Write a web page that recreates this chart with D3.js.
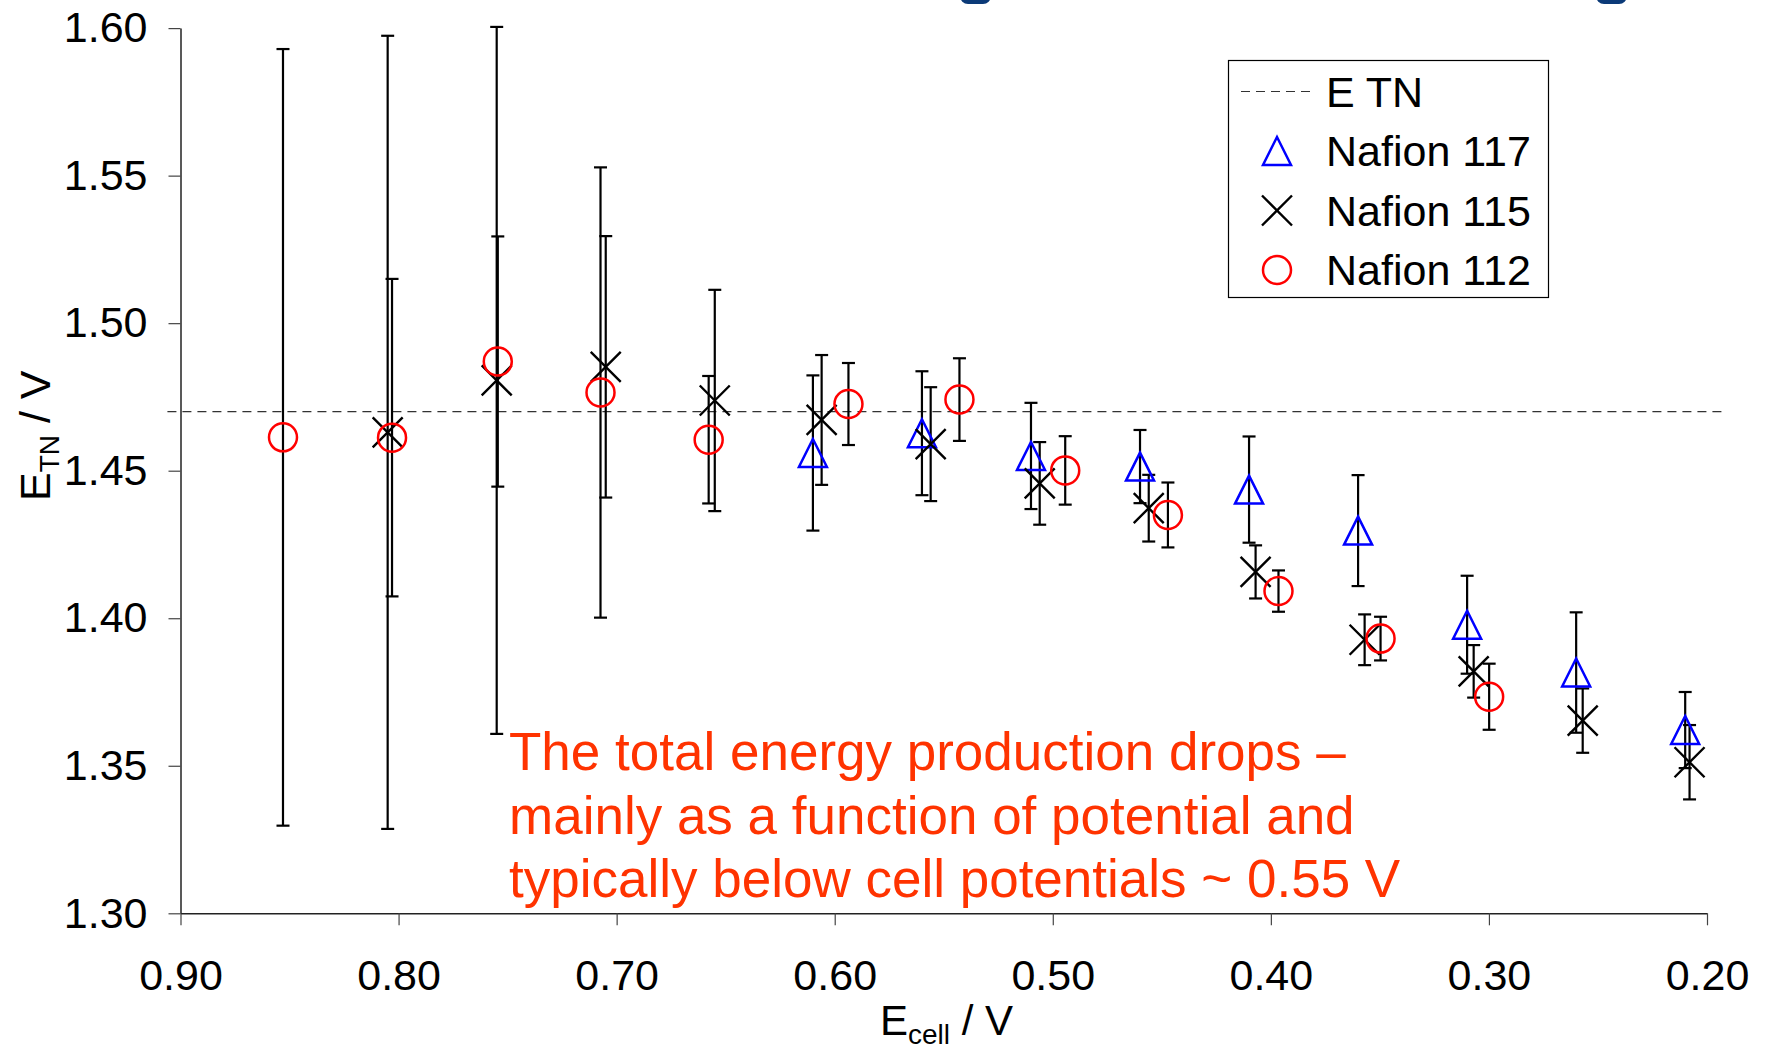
<!DOCTYPE html>
<html>
<head>
<meta charset="utf-8">
<script src="https://cdn.jsdelivr.net/npm/d3@7"></script>
<style>
  html, body { margin: 0; padding: 0; background: #fff; }
  svg { display: block; }
  text { font-family: "Liberation Sans", Arial, sans-serif; }
</style>
</head>
<body>
<svg id="chart" width="1765" height="1049"></svg>
<script>
// ---------- data ----------
const xTicks = [0.90, 0.80, 0.70, 0.60, 0.50, 0.40, 0.30, 0.20];
const yTicks = [1.30, 1.35, 1.40, 1.45, 1.50, 1.55, 1.60];

const etnX = [0.906, 0.191];
const etnY = [1.47, 1.47];

const n117X   = [0.610, 0.560, 0.510, 0.460, 0.410, 0.360, 0.310, 0.260, 0.210];
const n117Y   = [1.4560, 1.4627, 1.4550, 1.4514, 1.4436, 1.4297, 1.3978, 1.3816, 1.3621];
const n117Err = [0.0263, 0.0210, 0.0180, 0.0124, 0.0180, 0.0188, 0.0166, 0.0204, 0.0129];

const n115X   = [0.805, 0.755, 0.705, 0.655, 0.606, 0.556, 0.506, 0.456, 0.407, 0.357, 0.307, 0.257, 0.208];
const n115Y   = [1.4630, 1.4806, 1.4852, 1.4738, 1.4672, 1.4590, 1.4457, 1.4373, 1.4157, 1.3927, 1.3820, 1.3653, 1.3512];
const n115Err = [0.1344, 0.1198, 0.0443, 0.0375, 0.0220, 0.0193, 0.0140, 0.0113, 0.0090, 0.0086, 0.0089, 0.0109, 0.0126];

const n112X   = [0.853, 0.803, 0.7545, 0.7074, 0.6578, 0.5937, 0.5428, 0.4943, 0.4472, 0.3965, 0.3497, 0.2999];
const n112Y   = [1.4613, 1.4612, 1.4870, 1.4765, 1.4605, 1.4726, 1.4741, 1.4501, 1.4350, 1.4092, 1.3931, 1.3734];
const n112Err = [0.1316, 0.0538, 0.0424, 0.0763, 0.0216, 0.0139, 0.0140, 0.0116, 0.0110, 0.0070, 0.0074, 0.0112];

const legendLabels = ["E TN", "Nafion 117", "Nafion 115", "Nafion 112"];
const noteLines = [
  "The total energy production drops \u2013",
  "mainly as a function of potential and",
  "typically below cell potentials ~ 0.55 V"
];

// ---------- chart ----------
const svg = d3.select("#chart");
const x = d3.scaleLinear().domain([0.90, 0.20]).range([180.5, 1707]);
const y = d3.scaleLinear().domain([1.30, 1.60]).range([913.3, 28.1]);

// slide artefacts at the top edge
svg.append("rect").attr("x", 960).attr("y", -18).attr("width", 31).attr("height", 22).attr("rx", 8).attr("fill", "#0b3a78");
svg.append("rect").attr("x", 1596).attr("y", -18).attr("width", 31).attr("height", 22).attr("rx", 8).attr("fill", "#0b3a78");

// axes
const xAxis = d3.axisBottom(x).tickValues(xTicks).tickFormat(d3.format(".2f")).tickSize(12).tickPadding(34).tickSizeOuter(0);
const yAxis = d3.axisLeft(y).tickValues(yTicks).tickFormat(d3.format(".2f")).tickSize(12).tickPadding(21).tickSizeOuter(0);

const gx = svg.append("g").attr("transform", `translate(0,${y(1.30)})`).call(xAxis);
const gy = svg.append("g").attr("transform", `translate(${x(0.90)},0)`).call(yAxis);
[gx, gy].forEach(g => {
  g.select(".domain").attr("stroke", "#222").attr("stroke-width", 1.5);
  g.selectAll(".tick line").attr("stroke", "#444").attr("stroke-width", 1.2);
  g.selectAll(".tick text").attr("fill", "#000").style("font-size", "43px")
    .style("font-family", "'Liberation Sans', Arial, sans-serif");
});

// axis titles
const xt = svg.append("text").attr("x", 880).attr("y", 1035).style("font-size", "42px").attr("fill", "#000");
xt.append("tspan").text("E");
xt.append("tspan").attr("dy", 9).style("font-size", "28px").text("cell");
xt.append("tspan").attr("dy", -9).text(" / V");

const yt = svg.append("text").attr("transform", "translate(50,501) rotate(-90)").style("font-size", "43px").attr("fill", "#000");
yt.append("tspan").text("E");
yt.append("tspan").attr("dy", 9).style("font-size", "28px").text("TN");
yt.append("tspan").attr("dy", -9).text(" / V");

// E TN dashed line
svg.append("path")
  .datum(etnX.map((d, i) => [d, etnY[i]]))
  .attr("d", d3.line().x(d => x(d[0])).y(d => y(d[1])))
  .attr("fill", "none").attr("stroke", "#333").attr("stroke-width", 1.2).attr("stroke-dasharray", "9,6");

// error bars
function errorBars(xs, ys, es) {
  const g = svg.append("g").attr("stroke", "#000").attr("stroke-width", 2.2).attr("fill", "none");
  xs.forEach((xv, i) => {
    const cx = x(xv), y1 = y(ys[i] + es[i]), y2 = y(ys[i] - es[i]);
    g.append("line").attr("x1", cx).attr("x2", cx).attr("y1", y1).attr("y2", y2);
    g.append("line").attr("x1", cx - 6.5).attr("x2", cx + 6.5).attr("y1", y1).attr("y2", y1);
    g.append("line").attr("x1", cx - 6.5).attr("x2", cx + 6.5).attr("y1", y2).attr("y2", y2);
  });
}
errorBars(n117X, n117Y, n117Err);
errorBars(n115X, n115Y, n115Err);
errorBars(n112X, n112Y, n112Err);

// marker shapes
const triPath = (cx, cy) => `M${cx},${cy - 14}L${cx + 14},${cy + 14}L${cx - 14},${cy + 14}Z`;
const crossPath = (cx, cy) => `M${cx - 15},${cy - 15}L${cx + 15},${cy + 15}M${cx - 15},${cy + 15}L${cx + 15},${cy - 15}`;

svg.append("g").selectAll("path").data(n117X).join("path")
  .attr("d", (d, i) => triPath(x(d), y(n117Y[i])))
  .attr("fill", "none").attr("stroke", "#0000ff").attr("stroke-width", 2.5);

svg.append("g").selectAll("path").data(n115X).join("path")
  .attr("d", (d, i) => crossPath(x(d), y(n115Y[i])))
  .attr("fill", "none").attr("stroke", "#000").attr("stroke-width", 2.4);

svg.append("g").selectAll("circle").data(n112X).join("circle")
  .attr("cx", d => x(d)).attr("cy", (d, i) => y(n112Y[i])).attr("r", 14)
  .attr("fill", "none").attr("stroke", "#ff0000").attr("stroke-width", 2.5);

// legend
const lg = svg.append("g");
lg.append("rect").attr("x", 1228.5).attr("y", 60.5).attr("width", 320).attr("height", 237)
  .attr("fill", "#fff").attr("stroke", "#000").attr("stroke-width", 1.2);
const rowY = [91.5, 151, 210.5, 270];
const symX = 1277;
lg.append("line").attr("x1", 1241).attr("x2", 1311).attr("y1", rowY[0]).attr("y2", rowY[0])
  .attr("stroke", "#333").attr("stroke-width", 1.2).attr("stroke-dasharray", "9,6");
lg.append("path").attr("d", triPath(symX, rowY[1])).attr("fill", "none").attr("stroke", "#0000ff").attr("stroke-width", 2.5);
lg.append("path").attr("d", crossPath(symX, rowY[2])).attr("fill", "none").attr("stroke", "#000").attr("stroke-width", 2.4);
lg.append("circle").attr("cx", symX).attr("cy", rowY[3]).attr("r", 14).attr("fill", "none").attr("stroke", "#ff0000").attr("stroke-width", 2.5);
lg.selectAll("text.lbl").data(legendLabels).join("text").attr("class", "lbl")
  .attr("x", 1326).attr("y", (d, i) => rowY[i]).attr("dy", "0.36em")
  .style("font-size", "43px").attr("fill", "#000").text(d => d);

// annotation
svg.append("g").selectAll("text").data(noteLines).join("text")
  .attr("x", 509).attr("y", (d, i) => 770 + i * 63.5)
  .style("font-size", "53px").attr("fill", "#ff3300").text(d => d);
</script>
</body>
</html>
